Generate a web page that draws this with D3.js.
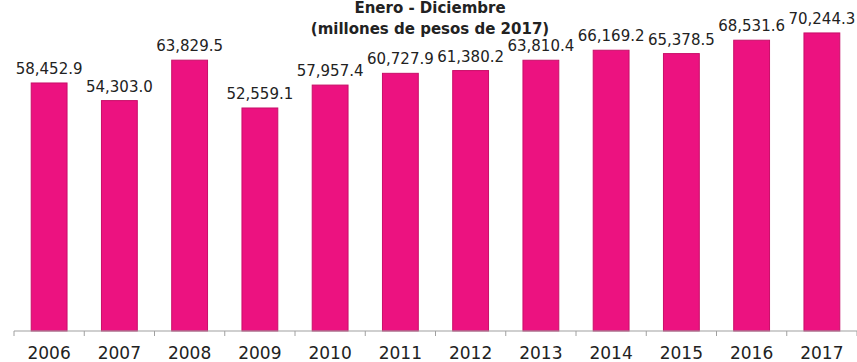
<!DOCTYPE html>
<html>
<head>
<meta charset="utf-8">
<script src="https://cdn.jsdelivr.net/npm/d3@7"></script>
<style>
  body { margin: 0; background: #fff; }
  svg text { font-family: "DejaVu Sans", sans-serif; fill: #222; }
</style>
</head>
<body>
<svg id="drawing_region"></svg>
<script>
const years = ["2006", "2007", "2008", "2009", "2010", "2011", "2012", "2013", "2014", "2015", "2016", "2017"];
const values = [58452.9, 54303.0, 63829.5, 52559.1, 57957.4, 60727.9, 61380.2, 63810.4, 66169.2, 65378.5, 68531.6, 70244.3];
const titleLines = ["Enero - Diciembre", "(millones de pesos de 2017)"];

const width = 857, height = 362;
const margin = { left: 14, right: 0, baseline: 331 };

const svg = d3.select('#drawing_region')
    .attr('width', width)
    .attr('height', height);

const data = years.map((y, i) => ({ year: y, value: values[i] }));

const x = d3.scaleBand()
    .domain(years)
    .range([margin.left, width - margin.right])
    .paddingInner(0.49)
    .paddingOuter(0.245);

const y = d3.scaleLinear()
    .domain([0, 78010])
    .range([margin.baseline, 0]);

// bars
svg.selectAll('rect.bar')
    .data(data)
    .enter()
    .append('rect')
    .attr('class', 'bar')
    .attr('x', d => x(d.year))
    .attr('y', d => y(d.value))
    .attr('width', x.bandwidth())
    .attr('height', d => y(0) - y(d.value))
    .attr('fill', '#ec1280')
    .attr('stroke', '#c80f68')
    .attr('stroke-width', 1);

// value labels
const fmt = d3.format(',.1f');
svg.selectAll('text.val')
    .data(data)
    .enter()
    .append('text')
    .attr('class', 'val')
    .attr('x', d => x(d.year) + x.bandwidth() / 2)
    .attr('y', d => y(d.value) - 9)
    .attr('text-anchor', 'middle')
    .style('font-size', '15px')
    .text(d => fmt(d.value));

// x axis
const axis = svg.append('g')
    .attr('transform', `translate(0, ${margin.baseline})`);

axis.append('line')
    .attr('x1', margin.left)
    .attr('x2', width)
    .attr('stroke', '#a0a0a0')
    .attr('stroke-width', 1.2);

const step = x.step();
const bounds = d3.range(years.length + 1).map(i => margin.left + i * step);
axis.selectAll('line.tick')
    .data(bounds)
    .enter()
    .append('line')
    .attr('class', 'tick')
    .attr('x1', d => d)
    .attr('x2', d => d)
    .attr('y1', 0)
    .attr('y2', 5)
    .attr('stroke', '#a0a0a0');

axis.selectAll('text.year')
    .data(years)
    .enter()
    .append('text')
    .attr('class', 'year')
    .attr('x', d => x(d) + x.bandwidth() / 2)
    .attr('y', 28)
    .attr('text-anchor', 'middle')
    .style('font-size', '17px')
    .text(d => d);

// title
svg.selectAll('text.title')
    .data(titleLines)
    .enter()
    .append('text')
    .attr('class', 'title')
    .attr('x', 430)
    .attr('y', (d, i) => 13 + i * 21)
    .attr('text-anchor', 'middle')
    .style('font-size', '15px')
    .style('font-weight', 'bold')
    .text(d => d);
</script>
</body>
</html>
